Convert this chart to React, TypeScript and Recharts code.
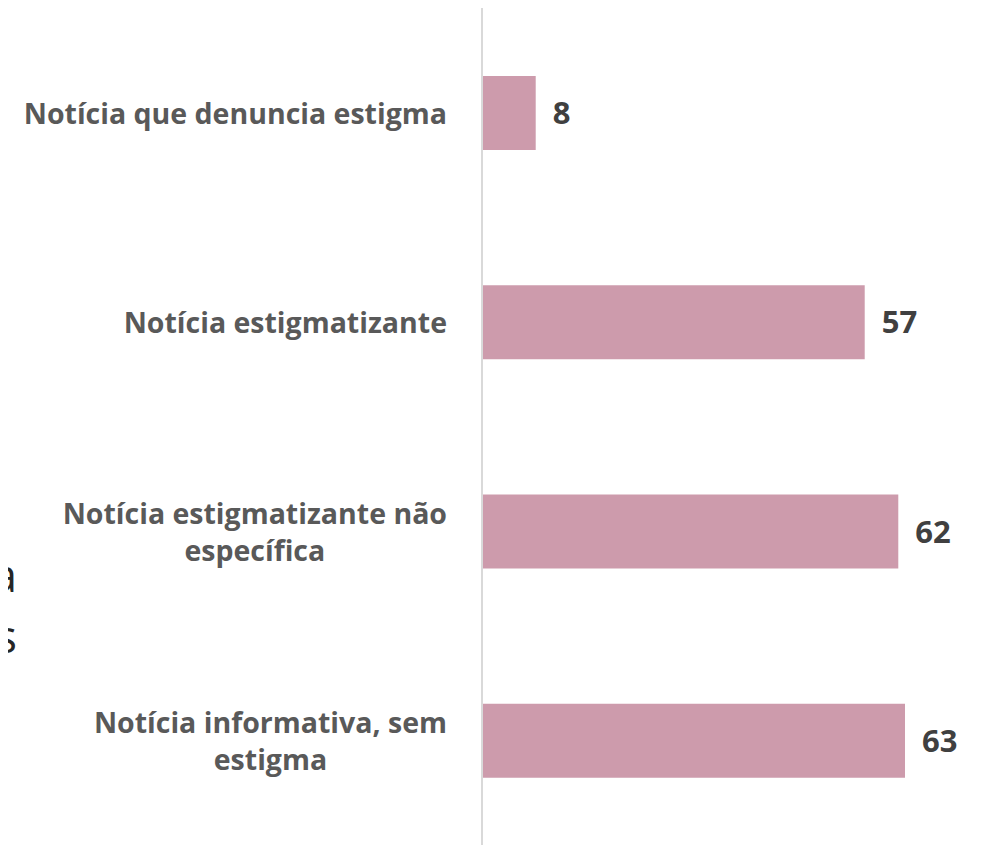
import { BarChart, Bar, XAxis, YAxis, LabelList } from "recharts";

const categories = [
  "Notícia que denuncia estigma",
  "Notícia estigmatizante",
  "Notícia estigmatizante não específica",
  "Notícia informativa, sem estigma",
];
const values = [8, 57, 62, 63];
const xDomain = [0, 70];

const data = categories.map((name, i) => ({ name, value: values[i] }));

const LABEL_FONT = "bold 28.5px 'Open Sans'";
const MAX_CHARS = 28;

function wrap(text: string): string[] {
  const words = text.split(" ");
  const lines: string[] = [];
  let cur = "";
  for (const w of words) {
    const next = cur ? cur + " " + w : w;
    if (next.length > MAX_CHARS && cur) {
      lines.push(cur);
      cur = w;
    } else {
      cur = next;
    }
  }
  if (cur) lines.push(cur);
  return lines;
}

let ctx: CanvasRenderingContext2D | null = null;
function measure(s: string): number {
  if (!ctx) ctx = document.createElement("canvas").getContext("2d");
  if (!ctx) return s.length * 15;
  ctx.font = LABEL_FONT;
  return ctx.measureText(s).width;
}

function CategoryTick(props: any) {
  const { x, y, payload } = props;
  const lines = wrap(String(payload.value));
  const w = Math.max(...lines.map(measure));
  const lh = 37;
  const cx = x - w / 2;
  return (
    <text
      x={cx}
      y={y}
      textAnchor="middle"
      fill="#595959"
      style={{ font: LABEL_FONT }}
    >
      {lines.map((l, i) => (
        <tspan
          key={i}
          x={cx}
          y={y + (i - (lines.length - 1) / 2) * lh}
          dominantBaseline="central"
        >
          {l}
        </tspan>
      ))}
    </text>
  );
}

export default function App() {
  return (
    <div style={{ position: "relative", width: 977, height: 838, fontFamily: "'Open Sans'" }}>
      <div
        style={{
          position: "absolute",
          zIndex: 2,
          left: -300,
          top: 536,
          width: 309,
          textAlign: "right",
          fontSize: 45,
          lineHeight: "61px",
          color: "#262626",
          whiteSpace: "nowrap",
        }}
      >
        <div>a</div>
        <div>s</div>
      </div>
      <BarChart
        width={977}
        height={838}
        data={data}
        layout="vertical"
        margin={{ top: 0, right: 33, bottom: 1, left: 0 }}
      >
        <XAxis type="number" domain={xDomain} hide />
        <YAxis
          type="category"
          dataKey="name"
          width={474}
          axisLine={{ stroke: "#d9d9d9", strokeWidth: 2 }}
          tickLine={false}
          tickSize={0}
          tickMargin={35}
          tick={<CategoryTick />}
          interval={0}
        />
        <Bar dataKey="value" fill="#cd9bac" barSize={74} isAnimationActive={false}>
          <LabelList
            dataKey="value"
            position="right"
            offset={17}
            fill="#404040"
            style={{ fontFamily: "'Open Sans'", fontSize: 31, fontWeight: 700 }}
          />
        </Bar>
      </BarChart>
    </div>
  );
}
